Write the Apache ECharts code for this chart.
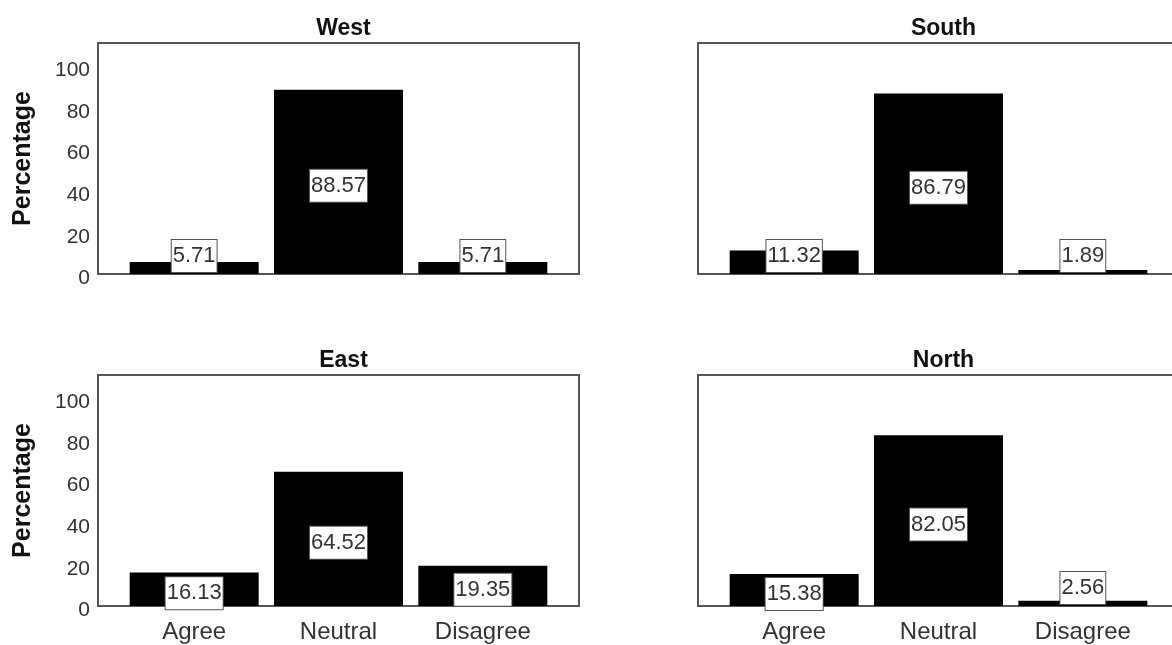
<!DOCTYPE html>
<html>
<head>
<meta charset="utf-8">
<script src="https://cdn.jsdelivr.net/npm/echarts@6/dist/echarts.min.js"></script>
<style>
html,body{margin:0;padding:0;background:#fff;overflow:hidden;width:1172px;height:645px;}
#chart{width:1190px;height:645px;}
</style>
</head>
<body>
<div id="chart"></div>
<script>
// ---- data ----
var regions = ['West', 'South', 'East', 'North'];
var categories = ['Agree', 'Neutral', 'Disagree'];
var westValues = [5.71, 88.57, 5.71];
var southValues = [11.32, 86.79, 1.89];
var eastValues = [16.13, 64.52, 19.35];
var northValues = [15.38, 82.05, 2.56];
var yMin = 0, yMax = 111, yInterval = 20;
var yAxisName = 'Percentage';

var panelValues = [westValues, southValues, eastValues, northValues];

// ---- layout ----
var FONT = '"Liberation Sans", Arial, sans-serif';
var boxLefts = [98, 698, 98, 698];
var boxTops = [43, 43, 375, 375];
var boxW = 481, boxH = 231;
var pad = 24;

var chart = echarts.init(document.getElementById('chart'), null, {renderer: 'canvas'});

var grids = [], xAxes = [], yAxes = [], series = [], titles = [];

for (var i = 0; i < 4; i++) {
  var isBottom = (i >= 2);
  // bar grid
  grids.push({left: boxLefts[i] + pad, top: boxTops[i], width: boxW - 2 * pad, height: boxH, show: false, containLabel: false});
  xAxes.push({
    type: 'category', gridIndex: i, data: categories,
    axisLine: {show: false}, axisTick: {show: false},
    axisLabel: {show: isBottom, fontSize: 24, color: '#333', fontFamily: FONT, margin: 14}
  });
  yAxes.push({type: 'value', gridIndex: i, min: yMin, max: yMax, interval: yInterval, show: false, splitLine: {show: false}});

  var vals = panelValues[i];
  var data = vals.map(function (v) {
    var item = {value: v};
    if (v < 13) {
      item.label = {position: 'insideBottom', distance: 2, offset: [0, 0]};
    }
    return item;
  });
  series.push({
    type: 'bar', xAxisIndex: i, yAxisIndex: i, data: data,
    barWidth: 129,
    itemStyle: {color: '#000'},
    label: {
      show: true, position: 'inside', offset: [0, 4],
      formatter: function (p) { return p.value.toFixed(2); },
      fontSize: 22, color: '#333', fontFamily: FONT,
      backgroundColor: '#fff', borderColor: '#555', borderWidth: 1,
      padding: [5, 1, 5, 1]
    },
    z: 3
  });

  titles.push({
    text: regions[i], left: boxLefts[i] + boxW / 2, top: boxTops[i] - 31, textAlign: 'center',
    textStyle: {fontSize: 23, fontWeight: 'bold', color: '#111', fontFamily: FONT}
  });
}

for (var j = 0; j < 4; j++) {
  var left = (j % 2 === 0);
  grids.push({left: boxLefts[j], top: boxTops[j], width: boxW, height: boxH, show: true,
    borderColor: '#555', borderWidth: 2, backgroundColor: 'transparent'});
  xAxes.push({type: 'value', gridIndex: 4 + j, show: false, min: 0, max: 1});
  yAxes.push({
    type: 'value', gridIndex: 4 + j, min: yMin, max: yMax, interval: yInterval,
    show: left,
    name: left ? yAxisName : '', nameLocation: 'middle', nameGap: 62,
    nameTextStyle: {fontSize: 25, fontWeight: 'bold', color: '#111', fontFamily: FONT},
    axisLine: {show: false}, axisTick: {show: false}, splitLine: {show: false},
    axisLabel: {show: left, showMaxLabel: false, fontSize: 21, color: '#333', fontFamily: FONT, margin: 8,
      verticalAlign: 'top', lineHeight: 9}
  });
}

chart.setOption({
  animation: false,
  backgroundColor: '#fff',
  title: titles,
  grid: grids,
  xAxis: xAxes,
  yAxis: yAxes,
  series: series
});
</script>
</body>
</html>
